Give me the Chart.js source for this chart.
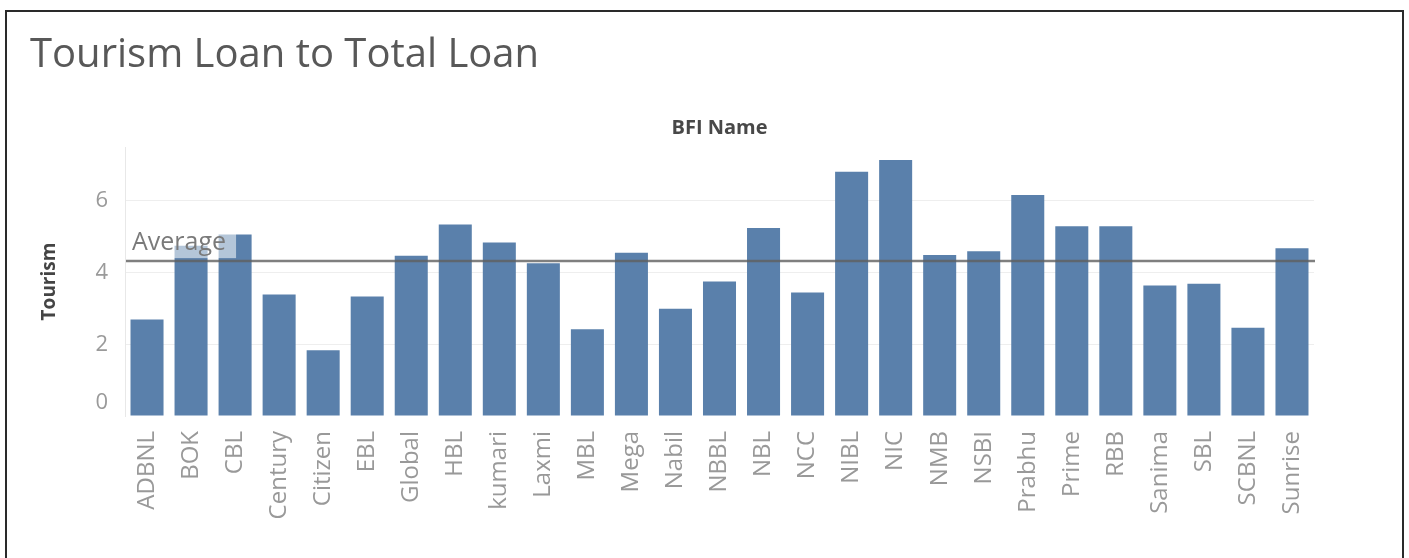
<!DOCTYPE html>
<html>
<head>
<meta charset="utf-8">
<script src="https://cdn.jsdelivr.net/npm/chart.js@4.4.1/dist/chart.umd.min.js"></script>
<style>
  html, body { margin: 0; padding: 0; background: #fff; overflow: hidden; }
  #frame { position: absolute; left: 5px; top: 10px; width: 1399px; height: 600px; border: 2px solid #2a2a2a; box-sizing: border-box; }
  #wrap { position: absolute; left: 0; top: 0; width: 1409px; height: 558px; }
</style>
</head>
<body>
<div id="frame"></div>
<div id="wrap"><canvas id="c" width="1409" height="558"></canvas></div>
<script>
const categories = ['ADBNL','BOK','CBL','Century','Citizen','EBL','Global','HBL','kumari','Laxmi','MBL','Mega','Nabil','NBBL','NBL','NCC','NIBL','NIC','NMB','NSBI','Prabhu','Prime','RBB','Sanima','SBL','SCBNL','Sunrise'];
const tourismValues = [2.69,4.75,5.06,3.39,1.83,3.33,4.47,5.34,4.84,4.26,2.42,4.55,2.99,3.75,5.24,3.44,6.81,7.14,4.49,4.59,6.16,5.29,5.29,3.64,3.69,2.46,4.68];
const yTicks = [0, 2, 4, 6];
const titleText = 'Tourism Loan to Total Loan';
const columnHeader = 'BFI Name';
const yAxisTitle = 'Tourism';
const averageLabel = 'Average';

const averageValue = tourismValues.reduce((a, b) => a + b, 0) / tourismValues.length;

const averagePlugin = {
  id: 'averageLine',
  afterDatasetsDraw(chart) {
    const {ctx, chartArea, scales} = chart;
    const y = scales.y.getPixelForValue(averageValue);
    ctx.save();
    ctx.font = '25px "Open Sans"';
    const w = ctx.measureText(averageLabel).width;
    ctx.fillStyle = 'rgba(255,255,255,0.55)';
    ctx.fillRect(chartArea.left + 3, y - 33, w + 14, 30);
    ctx.fillStyle = '#7a7a7a';
    ctx.textBaseline = 'middle';
    ctx.textAlign = 'left';
    ctx.fillText(averageLabel, chartArea.left + 7, y - 18);
    ctx.strokeStyle = 'rgba(95,95,95,0.8)';
    ctx.lineWidth = 2.5;
    ctx.beginPath();
    ctx.moveTo(chartArea.left + 1, y);
    ctx.lineTo(chartArea.right + 1, y);
    ctx.stroke();
    ctx.restore();
  }
};

new Chart(document.getElementById('c'), {
  type: 'bar',
  data: {
    labels: categories,
    datasets: [{
      label: yAxisTitle,
      data: tourismValues,
      backgroundColor: '#5a80ab',
      borderWidth: 0,
      barPercentage: 0.75,
      categoryPercentage: 1.0
    }]
  },
  plugins: [averagePlugin],
  options: {
    responsive: false,
    animation: false,
    devicePixelRatio: 1,
    layout: { padding: { left: 30, right: 95, top: 0, bottom: 0 } },
    plugins: {
      legend: { display: false },
      tooltip: { enabled: false },
      title: {
        display: true,
        text: titleText,
        align: 'start',
        color: '#585858',
        font: { family: '"Open Sans"', size: 40, weight: 'normal' },
        padding: { top: 32, bottom: 0 }
      },
      subtitle: {
        display: true,
        text: columnHeader,
        align: 'center',
        fullSize: false,
        color: '#484848',
        font: { family: '"Open Sans"', size: 20, weight: 'bold' },
        padding: { top: 36, bottom: 7 }
      }
    },
    scales: {
      x: {
        grid: { display: false },
        border: { display: false },
        ticks: {
          minRotation: 90,
          maxRotation: 90,
          autoSkip: false,
          padding: 7,
          color: '#999999',
          font: { family: '"Open Sans"', size: 24 }
        },
        afterFit(s) { s.height = 142; }
      },
      y: {
        min: 0,
        max: 7.5,
        afterBuildTicks(s) { s.ticks = yTicks.map(v => ({ value: v })); },
        grid: {
          drawTicks: false,
          color: ctx => (ctx.tick && ctx.tick.value === 0) ? 'rgba(0,0,0,0)' : '#eeeeee',
          lineWidth: 1
        },
        border: { display: true, color: '#e8e8e8', width: 1 },
        ticks: {
          padding: 17,
          color: '#9a9a9a',
          font: { family: '"Open Sans"', size: 22 },
          callback: v => v === 0 ? ['0', ''] : String(v)
        },
        title: {
          display: true,
          text: yAxisTitle,
          color: '#444',
          font: { family: '"Open Sans"', size: 19, weight: 'bold' },
          padding: { top: 8, bottom: 0 }
        },
        afterFit(s) { s.width = 95; }
      }
    }
  }
});
</script>
</body>
</html>
